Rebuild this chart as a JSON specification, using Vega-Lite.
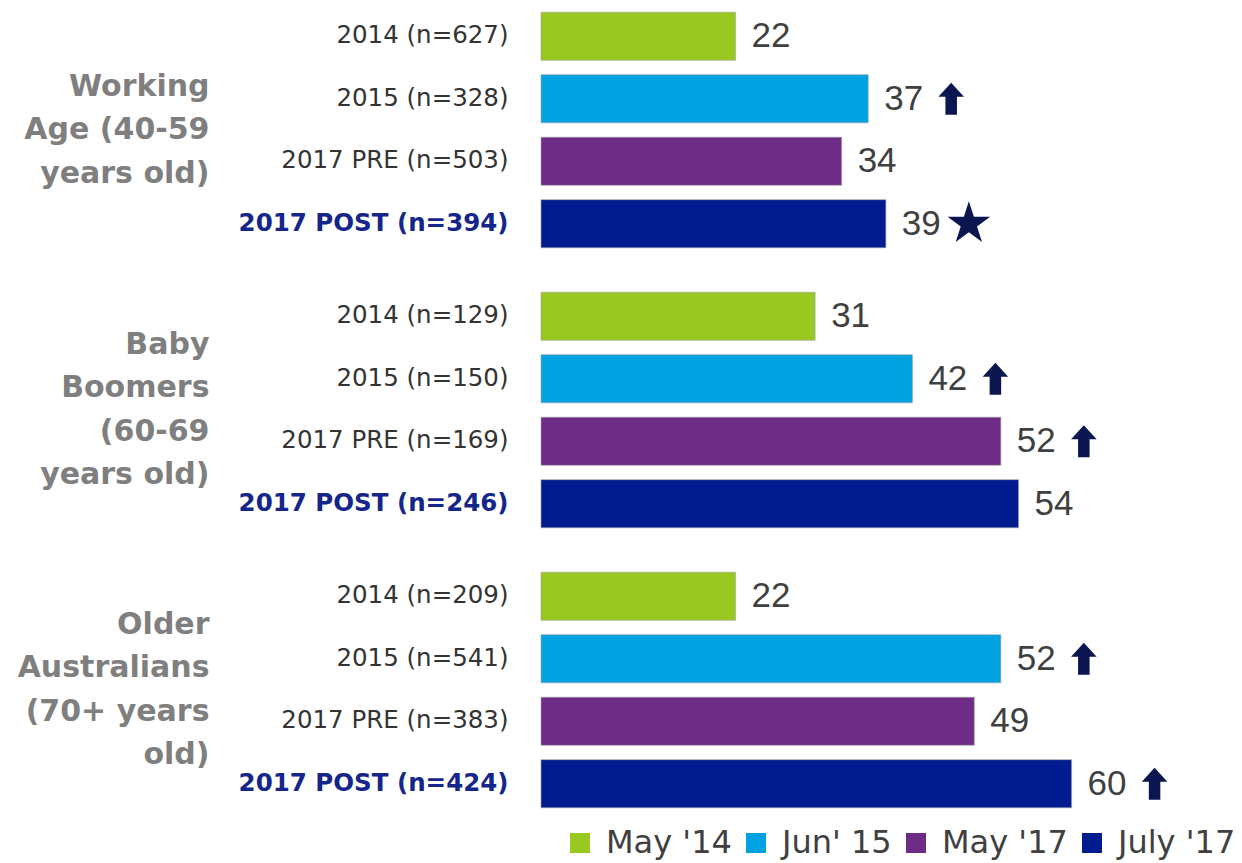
{
  "$schema": "https://vega.github.io/schema/vega-lite/v6.json",
  "padding": {"left": 17, "top": 5, "right": 5, "bottom": 5},
  "background": "white",
  "config": {
    "font": "Liberation Sans",
    "view": {"stroke": null},
    "axisY": {
      "ticks": false, "domain": false, "labelPadding": 33, "labelFont": "DejaVu Sans", "labelFontSize": 24.5, "labelLimit": 400,
      "titleAngle": 0, "titleAlign": "right", "titleBaseline": "middle", "titleFont": "DejaVu Sans", "titleFontSize": 30,
      "titleFontWeight": "bold", "titleColor": "#7f7f7f", "titleLineHeight": 43.5, "titleX": -332
    }
  },
  "data": {"values": [
    {"group": "W", "label": "2014 (n=627)", "ord": 1, "wave": "May '14", "value": 22, "sym": "none"},
    {"group": "W", "label": "2015 (n=328)", "ord": 2, "wave": "Jun' 15", "value": 37, "sym": "up"},
    {"group": "W", "label": "2017 PRE (n=503)", "ord": 3, "wave": "May '17", "value": 34, "sym": "none"},
    {"group": "W", "label": "2017 POST (n=394)", "ord": 4, "wave": "July '17", "value": 39, "sym": "star"},
    {"group": "B", "label": "2014  (n=129)", "ord": 1, "wave": "May '14", "value": 31, "sym": "none"},
    {"group": "B", "label": "2015 (n=150)", "ord": 2, "wave": "Jun' 15", "value": 42, "sym": "up"},
    {"group": "B", "label": "2017 PRE (n=169)", "ord": 3, "wave": "May '17", "value": 52, "sym": "up"},
    {"group": "B", "label": "2017 POST (n=246)", "ord": 4, "wave": "July '17", "value": 54, "sym": "none"},
    {"group": "O", "label": "2014 (n=209)", "ord": 1, "wave": "May '14", "value": 22, "sym": "none"},
    {"group": "O", "label": "2015 (n=541)", "ord": 2, "wave": "Jun' 15", "value": 52, "sym": "up"},
    {"group": "O", "label": "2017 PRE (n=383)", "ord": 3, "wave": "May '17", "value": 49, "sym": "none"},
    {"group": "O", "label": "2017 POST (n=424)", "ord": 4, "wave": "July '17", "value": 60, "sym": "up"}
  ]},
  "spacing": 30,
  "resolve": {"scale": {"y": "independent", "x": "shared", "color": "shared", "shape": "shared"}},
  "vconcat": [
    {
      "transform": [{"filter": "datum.group == 'W'"}],
      "width": 619, "height": {"step": 62.5},
      "encoding": {
        "y": {
          "field": "label", "type": "nominal", "sort": {"field": "ord", "op": "min"},
          "scale": {"paddingInner": 0.23, "paddingOuter": 0.115},
          "axis": {
            "title": ["Working", "Age (40-59", "years old)"], "titleY": 81,
            "labelColor": {"condition": {"test": "indexof(datum.value, 'POST') >= 0", "value": "#14268a"}, "value": "#333333"},
            "labelFontWeight": {"condition": {"test": "indexof(datum.value, 'POST') >= 0", "value": "bold"}, "value": "normal"}
          }
        },
        "x": {"field": "value", "type": "quantitative", "scale": {"domain": [0, 70], "nice": false}, "axis": null}
      },
      "layer": [
        {
          "mark": {"type": "bar", "stroke": "#a0a0a0", "strokeWidth": 1, "strokeOpacity": 0.6},
          "encoding": {
            "color": {
              "field": "wave", "type": "nominal",
              "scale": {"domain": ["May '14", "Jun' 15", "May '17", "July '17"], "range": ["#99c920", "#00a1e0", "#6e2c86", "#001c8e"]},
              "legend": {
                "title": null, "orient": "none", "direction": "horizontal", "legendX": 23, "legendY": 822,
                "symbolType": "square", "symbolSize": 400, "symbolStrokeWidth": 0, "symbolOpacity": 1,
                "labelFont": "DejaVu Sans", "labelFontSize": 32, "labelColor": "#404040", "labelOffset": 10, "columnPadding": 8, "labelLimit": 300
              }
            }
          }
        },
        {
          "mark": {"type": "text", "align": "left", "baseline": "middle", "dx": 16, "fontSize": 35, "color": "#404040"},
          "encoding": {"text": {"field": "value", "type": "quantitative"}}
        },
        {
          "mark": {"type": "point", "filled": true, "size": 1024, "xOffset": 83, "color": "#0b1650", "opacity": 1, "strokeWidth": 0},
          "encoding": {
            "shape": {
              "field": "sym", "type": "nominal",
              "scale": {"domain": ["up", "star", "none"], "range": [
                "M0,-1 L0.8,-0.12 L0.36,-0.12 L0.36,1 L-0.36,1 L-0.36,-0.12 L-0.8,-0.12 Z",
                "M0,-1.4 L0.314,-0.433 L1.331,-0.433 L0.509,0.165 L0.823,1.133 L0,0.535 L-0.823,1.133 L-0.509,0.165 L-1.331,-0.433 L-0.314,-0.433 Z",
                "M0,0 Z"
              ]},
              "legend": null
            }
          }
        }
      ]
    },
    {
      "transform": [{"filter": "datum.group == 'B'"}],
      "width": 619, "height": {"step": 62.5},
      "encoding": {
        "y": {
          "field": "label", "type": "nominal", "sort": {"field": "ord", "op": "min"},
          "scale": {"paddingInner": 0.23, "paddingOuter": 0.115},
          "axis": {
            "title": ["Baby", "Boomers", "(60-69", "years old)"], "titleY": 59,
            "labelColor": {"condition": {"test": "indexof(datum.value, 'POST') >= 0", "value": "#14268a"}, "value": "#333333"},
            "labelFontWeight": {"condition": {"test": "indexof(datum.value, 'POST') >= 0", "value": "bold"}, "value": "normal"}
          }
        },
        "x": {"field": "value", "type": "quantitative", "scale": {"domain": [0, 70], "nice": false}, "axis": null}
      },
      "layer": [
        {
          "mark": {"type": "bar", "stroke": "#a0a0a0", "strokeWidth": 1, "strokeOpacity": 0.6},
          "encoding": {"color": {"field": "wave", "type": "nominal"}}
        },
        {
          "mark": {"type": "text", "align": "left", "baseline": "middle", "dx": 16, "fontSize": 35, "color": "#404040"},
          "encoding": {"text": {"field": "value", "type": "quantitative"}}
        },
        {
          "mark": {"type": "point", "filled": true, "size": 1024, "xOffset": 83, "color": "#0b1650", "opacity": 1, "strokeWidth": 0},
          "encoding": {"shape": {"field": "sym", "type": "nominal", "legend": null}}
        }
      ]
    },
    {
      "transform": [{"filter": "datum.group == 'O'"}],
      "width": 619, "height": {"step": 62.5},
      "encoding": {
        "y": {
          "field": "label", "type": "nominal", "sort": {"field": "ord", "op": "min"},
          "scale": {"paddingInner": 0.23, "paddingOuter": 0.115},
          "axis": {
            "title": ["Older", "Australians", "(70+ years", "old)"], "titleY": 59,
            "labelColor": {"condition": {"test": "indexof(datum.value, 'POST') >= 0", "value": "#14268a"}, "value": "#333333"},
            "labelFontWeight": {"condition": {"test": "indexof(datum.value, 'POST') >= 0", "value": "bold"}, "value": "normal"}
          }
        },
        "x": {"field": "value", "type": "quantitative", "scale": {"domain": [0, 70], "nice": false}, "axis": null}
      },
      "layer": [
        {
          "mark": {"type": "bar", "stroke": "#a0a0a0", "strokeWidth": 1, "strokeOpacity": 0.6},
          "encoding": {"color": {"field": "wave", "type": "nominal"}}
        },
        {
          "mark": {"type": "text", "align": "left", "baseline": "middle", "dx": 16, "fontSize": 35, "color": "#404040"},
          "encoding": {"text": {"field": "value", "type": "quantitative"}}
        },
        {
          "mark": {"type": "point", "filled": true, "size": 1024, "xOffset": 83, "color": "#0b1650", "opacity": 1, "strokeWidth": 0},
          "encoding": {"shape": {"field": "sym", "type": "nominal", "legend": null}}
        }
      ]
    }
  ]
}
